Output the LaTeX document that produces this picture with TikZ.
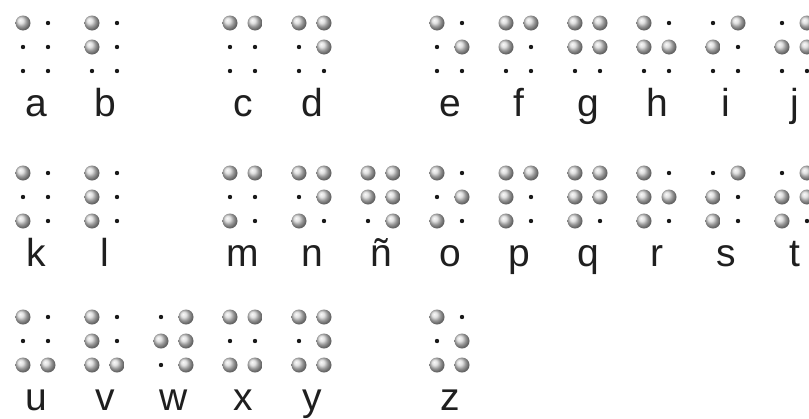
\documentclass[tikz,border=0pt]{standalone}
\usepackage{fontspec}
\setmainfont{Liberation Sans}
\tikzstyle{raised} = [ball color=gray!32, draw=none]
\tikzstyle{flat} = [fill=black!90]
\tikzstyle{letter} = [anchor=base, inner sep=0pt, text=black!88, font=\fontsize{39}{39}\selectfont]

% one cell: x of left column, y of top row, six flags (dots 1-6), letter, name
\newcommand{\braillecell}[5]{%
  \edef\flaglist{#3}%
  \foreach \d [count=\i from 0] in \flaglist {
    \pgfmathsetmacro{\px}{#1+int(\i/3)*25}
    \pgfmathsetmacro{\py}{#2+mod(\i,3)*24}
    \ifnum\d=1\relax
      \shade[raised] (\px,\py) circle (7.5);
    \else
      \fill[flat] (\px,\py) circle (2.2);
    \fi
  }
  \node[letter] (#5) at (#1+13,#2+93) {#4};
}

\begin{document}
\begin{tikzpicture}[x=1pt,y=-1pt]

    \useasboundingbox[fill=white] (0,0) rectangle (809,418);

    % Row 1
    \foreach \x/\pts/\ch/\nm in {
        23/{1,0,0,0,0,0}/a/a, 92/{1,1,0,0,0,0}/b/b,
        230/{1,0,0,1,0,0}/c/c, 299/{1,0,0,1,1,0}/d/d,
        437/{1,0,0,0,1,0}/e/e, 506/{1,1,0,1,0,0}/f/f,
        575/{1,1,0,1,1,0}/g/g, 644/{1,1,0,0,1,0}/h/h,
        713/{0,1,0,1,0,0}/i/i, 782/{0,1,0,1,1,0}/j/j}
        \braillecell{\x}{23}{\pts}{\ch}{\nm};

    % Row 2
    \foreach \x/\pts/\ch/\nm in {
        23/{1,0,1,0,0,0}/k/k, 92/{1,1,1,0,0,0}/l/l,
        230/{1,0,1,1,0,0}/m/m, 299/{1,0,1,1,1,0}/n/n,
        368/{1,1,0,1,1,1}/ñ/enye,
        437/{1,0,1,0,1,0}/o/o, 506/{1,1,1,1,0,0}/p/p,
        575/{1,1,1,1,1,0}/q/q, 644/{1,1,1,0,1,0}/r/r,
        713/{0,1,1,1,0,0}/s/s, 782/{0,1,1,1,1,0}/t/t}
        \braillecell{\x}{173}{\pts}{\ch}{\nm};

    % Row 3
    \foreach \x/\pts/\ch/\nm in {
        23/{1,0,1,0,0,1}/u/u, 92/{1,1,1,0,0,1}/v/v,
        161/{0,1,0,1,1,1}/w/w, 230/{1,0,1,1,0,1}/x/x,
        299/{1,0,1,1,1,1}/y/y, 437/{1,0,1,0,1,1}/z/z}
        \braillecell{\x}{317}{\pts}{\ch}{\nm};

\end{tikzpicture}
\end{document}
